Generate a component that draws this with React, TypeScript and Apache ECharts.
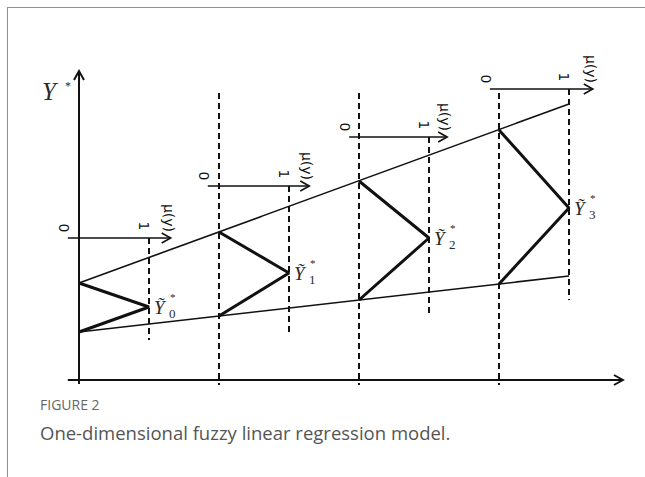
import React, { useEffect, useRef } from "react";
import * as echarts from "echarts";

// ---- data (diagram coordinates) ----
const groupX = [0, 2, 4, 6]; // left vertices of the fuzzy triangles
const centerX = [1, 3, 5, 7]; // centres Ỹ*_i
const triTop = [9.7, 14.8, 19.9, 25.0];
const triCenter = [7.3, 10.7, 14.2, 17.2];
const triBottom = [4.8, 6.4, 8.0, 9.6];
const upperLineX = [0, 7];
const upperLineY = [9.7, 27.6];
const lowerLineX = [0, 7];
const lowerLineY = [4.8, 10.4];
const muArrowY = [14.2, 19.4, 24.3, 29.1];
const muArrowStart = [-0.16, 1.84, 3.86, 5.87];
const muArrowEnd = [1.31, 3.29, 5.26, 7.34];
const shortDashBottom = [4.0, 4.5, 6.7, 8.0];
const longDashX = [2, 4, 6];
const longDashTop = [28.7, 28.7, 28.7];
const longDashBottom = [-0.5, -0.5, -0.5];
const xAxisExtent = [-0.16, 7.77];
const yAxisExtent = [-0.4, 30.9];
const subscripts = ["0", "1", "2", "3"];
const muLabel = "μ(y)";
const zeroLabel = "0";
const oneLabel = "1";
const axisName = "Y";
const figureLabel = "FIGURE 2";
const captionText = "One-dimensional fuzzy linear regression model.";

const INK = "#111111";
const TXT = "#2a2a2a";

export default function App() {
  const ref = useRef<HTMLDivElement>(null);

  useEffect(() => {
    const chart = echarts.init(ref.current as HTMLDivElement, null, { renderer: "svg" });

    // segments: [x1, y1, x2, y2]
    const dashData: number[][] = [];
    centerX.forEach((x, i) => dashData.push([x, muArrowY[i], x, shortDashBottom[i]]));
    longDashX.forEach((x, i) => dashData.push([x, longDashTop[i], x, longDashBottom[i]]));

    // arrows: [x1, y1, x2, y2, width]
    const arrowData: number[][] = [
      [xAxisExtent[0], 0, xAxisExtent[1], 0, 2],
      [0, yAxisExtent[0], 0, yAxisExtent[1], 2],
    ];
    muArrowY.forEach((y, i) => arrowData.push([muArrowStart[i], y, muArrowEnd[i], y, 1.6]));

    // labels: [x, y, kind, index]
    const labelData: number[][] = [];
    muArrowY.forEach((y, i) => {
      labelData.push([muArrowStart[i], y, 0, i]);
      labelData.push([centerX[i], y, 1, i]);
      labelData.push([muArrowEnd[i], y, 2, i]);
      labelData.push([centerX[i], triCenter[i], 3, i]);
    });
    labelData.push([0, yAxisExtent[1], 4, 0]);

    const triangleSeries = groupX.map((gx, i) => ({
      type: "line",
      data: [
        [gx, triTop[i]],
        [centerX[i], triCenter[i]],
        [gx, triBottom[i]],
      ],
      symbol: "none",
      lineStyle: { color: INK, width: 3 },
      z: 4,
    }));

    const option: any = {
      animation: false,
      grid: { left: 1, right: 6, top: 42, bottom: 40 },
      xAxis: { type: "value", min: -1, max: 7.9, show: false },
      yAxis: { type: "value", min: -5, max: 33, show: false },
      series: [
        {
          type: "custom",
          data: dashData,
          encode: { x: [0, 2], y: [1, 3] },
          renderItem: (params: any, api: any) => {
            const a = api.coord([api.value(0), api.value(1)]);
            const b = api.coord([api.value(2), api.value(3)]);
            return {
              type: "line",
              shape: { x1: a[0], y1: a[1], x2: b[0], y2: b[1] },
              style: { stroke: INK, lineWidth: 2, lineDash: [6, 4] },
            };
          },
          z: 2,
        },
        {
          type: "line",
          data: upperLineX.map((x, i) => [x, upperLineY[i]]),
          symbol: "none",
          lineStyle: { color: INK, width: 1.6 },
          z: 3,
        },
        {
          type: "line",
          data: lowerLineX.map((x, i) => [x, lowerLineY[i]]),
          symbol: "none",
          lineStyle: { color: INK, width: 1.6 },
          z: 3,
        },
        ...triangleSeries,
        {
          type: "custom",
          data: arrowData,
          encode: { x: [0, 2], y: [1, 3] },
          renderItem: (params: any, api: any) => {
            const a = api.coord([api.value(0), api.value(1)]);
            const b = api.coord([api.value(2), api.value(3)]);
            const w = api.value(4);
            const dx = b[0] - a[0];
            const dy = b[1] - a[1];
            const len = Math.hypot(dx, dy);
            const ux = dx / len;
            const uy = dy / len;
            const hl = 9;
            const hw = 5;
            const bx = b[0] - ux * hl;
            const by = b[1] - uy * hl;
            const p1 = [bx - uy * hw, by + ux * hw];
            const p2 = [bx + uy * hw, by - ux * hw];
            return {
              type: "group",
              children: [
                {
                  type: "line",
                  shape: { x1: a[0], y1: a[1], x2: b[0] - ux * 1, y2: b[1] - uy * 1 },
                  style: { stroke: INK, lineWidth: w },
                },
                {
                  type: "polyline",
                  shape: { points: [p1, b, p2] },
                  style: { stroke: INK, lineWidth: w, fill: "none" },
                },
              ],
            };
          },
          z: 5,
        },
        {
          type: "custom",
          data: labelData,
          encode: { x: 0, y: 1 },
          renderItem: (params: any, api: any) => {
            const p = api.coord([api.value(0), api.value(1)]);
            const kind = api.value(2);
            const idx = api.value(3);
            const rot = -Math.PI / 2;
            const sans = "DejaVu Sans";
            if (kind === 0) {
              return {
                type: "text",
                x: p[0] - 4,
                y: p[1] - 10,
                rotation: rot,
                style: { text: zeroLabel, fill: INK, fontSize: 14, fontFamily: sans, align: "center", verticalAlign: "middle" },
              };
            }
            if (kind === 1) {
              return {
                type: "text",
                x: p[0] - 5,
                y: p[1] - 12,
                rotation: rot,
                style: { text: oneLabel, fill: INK, fontSize: 14, fontFamily: sans, align: "center", verticalAlign: "middle" },
              };
            }
            if (kind === 2) {
              return {
                type: "text",
                x: p[0] - 2,
                y: p[1] - 20,
                rotation: rot,
                style: { text: muLabel, fill: INK, fontSize: 14, fontFamily: sans, align: "center", verticalAlign: "middle" },
              };
            }
            if (kind === 3) {
              return {
                type: "group",
                children: [
                  {
                    type: "text",
                    x: p[0] + 5,
                    y: p[1] + 0,
                    style: { text: "Ỹ", fill: TXT, fontSize: 19, fontStyle: "italic", fontFamily: "Liberation Serif", align: "left", verticalAlign: "middle" },
                  },
                  {
                    type: "text",
                    x: p[0] + 20,
                    y: p[1] + 6,
                    style: { text: subscripts[idx], fill: TXT, fontSize: 13, fontFamily: "Liberation Serif", align: "left", verticalAlign: "middle" },
                  },
                  {
                    type: "text",
                    x: p[0] + 21,
                    y: p[1] - 10,
                    style: { text: "*", fill: TXT, fontSize: 11, fontFamily: "Liberation Serif", align: "left", verticalAlign: "middle" },
                  },
                ],
              };
            }
            return {
              type: "group",
              children: [
                {
                  type: "text",
                  x: p[0] - 37,
                  y: p[1] + 20,
                  style: { text: axisName, fill: TXT, fontSize: 25, fontStyle: "italic", fontFamily: "Liberation Serif", align: "left", verticalAlign: "middle" },
                },
                {
                  type: "text",
                  x: p[0] - 14,
                  y: p[1] + 15,
                  style: { text: "*", fill: TXT, fontSize: 12, fontFamily: "Liberation Serif", align: "left", verticalAlign: "middle" },
                },
              ],
            };
          },
          z: 6,
        },
      ],
      graphic: [
        {
          type: "text",
          x: 32,
          y: 396,
          style: { text: figureLabel, fill: "#666666", fontSize: 14, fontFamily: "Open Sans", verticalAlign: "middle" },
        },
        {
          type: "text",
          x: 32,
          y: 424,
          style: { text: captionText, fill: "#555555", fontSize: 18.5, fontFamily: "Open Sans", verticalAlign: "middle" },
        },
      ],
    };

    chart.setOption(option);
    return () => chart.dispose();
  }, []);

  return (
    <div
      style={{
        position: "fixed",
        left: 7,
        top: 7,
        right: 0,
        bottom: 0,
        borderTop: "1px solid #8f8f8f",
        borderLeft: "1px solid #8f8f8f",
        background: "#ffffff",
      }}
    >
      <div ref={ref} style={{ width: 630, height: 462 }} />
    </div>
  );
}
